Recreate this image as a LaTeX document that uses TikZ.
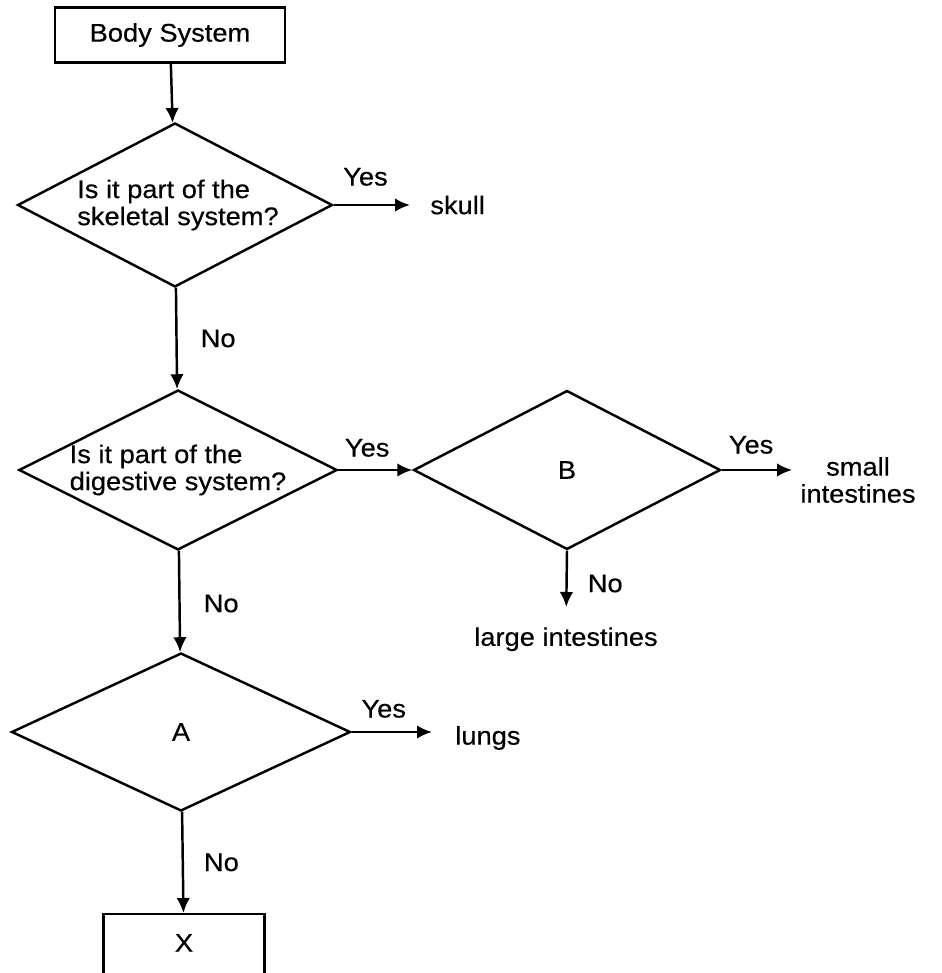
\documentclass[tikz,border=0pt]{standalone}
\usepackage{fontspec}
\setmainfont{Liberation Sans}[FakeStretch=1.07, FakeBold=0.4]
\usetikzlibrary{arrows.meta,shapes.geometric}

\tikzset{
	block/.style={draw, line width=1.4pt, inner sep=0pt},
	decision/.style={draw, diamond, aspect=2, line width=1.4pt, inner sep=0pt, align=left},
	flow/.style={line width=1.4pt, -{Latex[length=0.3cm,width=0.27cm]}},
	answer/.style={inner sep=0pt, align=center},
}

\begin{document}
\begin{tikzpicture}[x=0.02cm, y=-0.02cm, font=\fontsize{14.5pt}{15.4pt}\selectfont]
		%%%%% START %%%%%
		\useasboundingbox (0, 0) rectangle (942, 973);
		
		\node[block, minimum width=4.6cm, minimum height=1.1cm] (body) at (170, 35) {Body System};
		
		\node[decision, minimum width=6.3cm, minimum height=3.28cm] (skel) at (175, 205) {\hspace*{0.12cm}Is it part of the\\\hspace*{0.12cm}skeletal system?};
		\node[answer, anchor=west] (skull) at (430, 205) {skull};
		
		\node[decision, minimum width=6.26cm, minimum height=3.2cm] (dig) at (178, 470) {Is it part of the\\digestive system?};
		
		\node[decision, minimum width=6.14cm, minimum height=3.18cm] (bq) at (567, 470) {B};
		\node[answer] (small) at (858, 480) {small\\intestines};
		\node[answer, anchor=north] (large) at (566, 627) {large intestines};
		
		\node[decision, minimum width=6.78cm, minimum height=3.16cm] (aq) at (181, 732) {A};
		\node[answer, anchor=west] (lungs) at (455, 738) {lungs};
		
		\node[block, anchor=north, minimum width=3.22cm, minimum height=1.5cm, text height=0pt, text depth=0pt] (xbox) at (184, 913) {X};
		
		\draw[flow] (body) -- (skel);
		\draw[flow, shorten >=0.4cm] (skel.east) -- (skel.east -| skull.west) node[answer, pos=0.33, above=0.36cm] {Yes};
		\draw[flow] (skel) -- (dig) node[answer, pos=0.5, right=0.46cm] {No};
		
		\draw[flow] (dig.east) -- (bq.west) node[answer, pos=0.39, above=0.24cm] {Yes};
		\draw[flow, shorten >=0.16cm] (bq.east) -- (bq.east -| small.west) node[answer, pos=0.375, above=0.3cm] {Yes};
		\draw[flow, shorten >=0.4cm] (bq.south) -- (large.north) node[answer, pos=0.43, right=0.4cm] {No};
		\draw[flow] (dig) -- (aq) node[answer, pos=0.52, right=0.46cm] {No};
		
		\draw[flow, shorten >=0.46cm] (aq.east) -- (aq.east -| lungs.west) node[answer, pos=0.31, above=0.26cm] {Yes};
		\draw[flow] (aq) -- (xbox) node[answer, pos=0.5, right=0.4cm] {No};
		%%%%% END %%%%%
	\end{tikzpicture}
\end{document}
